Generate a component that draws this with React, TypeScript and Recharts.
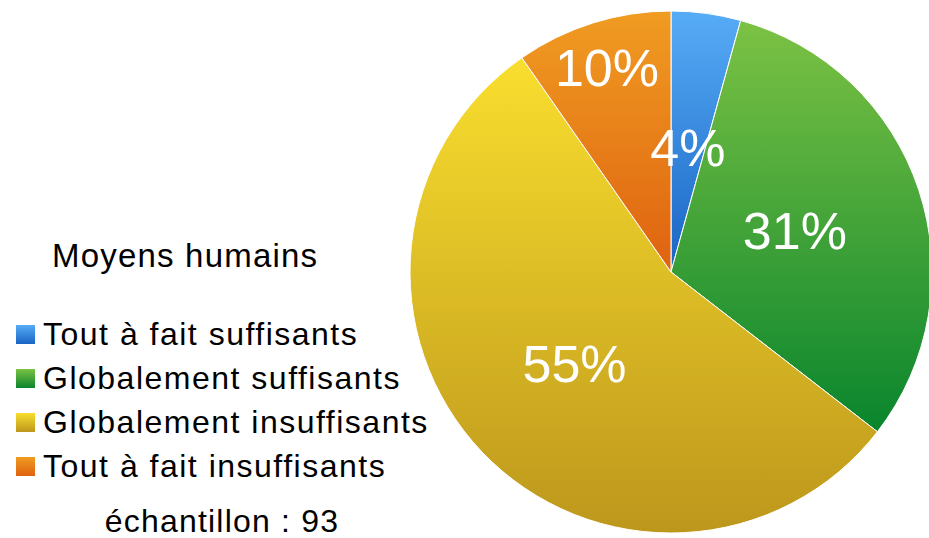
import { Cell, Pie, PieChart } from "recharts";

// responses (counts), sample of 93
const categories = [
  "Tout à fait suffisants",
  "Globalement suffisants",
  "Globalement insuffisants",
  "Tout à fait insuffisants",
];
const counts = [4, 29, 51, 9];
const sampleSize = 93;

// [top, bottom] of each slice gradient
const colors = [
  ["#57acf6", "#1864c4"],
  ["#7cc244", "#09852d"],
  ["#f9de2e", "#bd971c"],
  ["#f09c22", "#df6210"],
];

const labelRadius = [0.48, 0.5, 0.51, 0.82];

const data = categories.map((name, i) => ({ name, value: counts[i] }));

const RADIAN = Math.PI / 180;

function renderLabel(props: any) {
  const { cx, cy, midAngle, outerRadius, percent, index } = props;
  const r = outerRadius * labelRadius[index];
  const x = cx + r * Math.cos(-midAngle * RADIAN);
  const y = cy + r * Math.sin(-midAngle * RADIAN);
  return (
    <text
      x={x}
      y={y}
      fill="#fff"
      fontSize={52}
      fontFamily="Liberation Sans, Arial, sans-serif"
      textAnchor="middle"
      dominantBaseline="central"
    >
      {Math.round(percent * 100)}%
    </text>
  );
}

export default function App() {
  const font = "Liberation Sans, Arial, sans-serif";
  return (
    <div style={{ position: "fixed", left: 0, top: 0, width: 929, height: 538, overflow: "hidden", background: "#fff", fontFamily: font }}>
      <PieChart
        width={929}
        height={538}
        margin={{ top: 0, right: 0, bottom: 0, left: 0 }}
        style={{ position: "absolute", left: 0, top: 0 }}
      >
        <defs>
          {colors.map((c, i) => (
            <linearGradient key={i} id={`grad-${i}`} x1="0" y1="0" x2="0" y2="1">
              <stop offset="0%" stopColor={c[0]} />
              <stop offset="100%" stopColor={c[1]} />
            </linearGradient>
          ))}
        </defs>
        <Pie
          data={data}
          dataKey="value"
          nameKey="name"
          cx={671}
          cy={272}
          outerRadius={261}
          startAngle={90}
          endAngle={-270}
          stroke="#fff"
          strokeWidth={1}
          label={renderLabel}
          labelLine={false}
          isAnimationActive={false}
        >
          {data.map((_, i) => (
            <Cell key={`cell-${i}`} fill={`url(#grad-${i})`} />
          ))}
        </Pie>
      </PieChart>

      <div style={{ position: "absolute", left: 52, top: 236, fontSize: 33, letterSpacing: 1.2, lineHeight: "40px", color: "#000", whiteSpace: "nowrap" }}>
        Moyens humains
      </div>
      {categories.map((name, i) => (
        <div
          key={name}
          style={{ position: "absolute", left: 16, top: 314 + i * 44, height: 40, display: "flex", alignItems: "center", fontSize: 32, letterSpacing: 1.5, color: "#000", whiteSpace: "nowrap" }}
        >
          <span
            style={{ display: "inline-block", width: 19, height: 19, marginRight: 8, background: `linear-gradient(${colors[i][0]}, ${colors[i][1]})` }}
          />
          {name}
        </div>
      ))}
      <div style={{ position: "absolute", left: 0, width: 444, top: 505, textAlign: "center", fontSize: 32, letterSpacing: 1.2, lineHeight: "32px", color: "#000", whiteSpace: "nowrap" }}>
        échantillon : {sampleSize}
      </div>
    </div>
  );
}
